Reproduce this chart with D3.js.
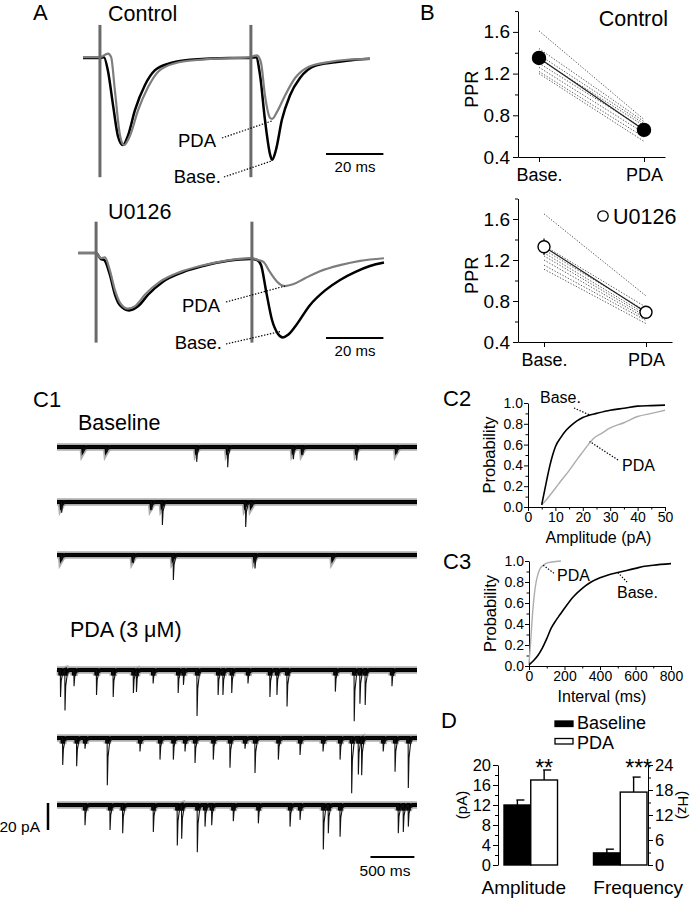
<!DOCTYPE html>
<html>
<head>
<meta charset="utf-8">
<script src="https://cdn.jsdelivr.net/npm/d3@7"></script>
<style>
  body { margin: 0; background: #fff; }
  svg { display: block; }
  text { font-family: 'Liberation Sans', Arial, sans-serif; fill: #000; }
</style>
</head>
<body>
<svg id="fig" width="692" height="899"></svg>
<script>
// ---------- A: evoked EPSC pairs, [time ms, current (norm. pA)] ----------
const ctrlBase = [[0,0],[5.9,0],[7.3,1],[8.7,-15],[10.5,-55],[12.2,-90],[13.9,-100],[15.7,-89],[18.1,-60],[21.6,-31],[25.1,-14],[30.3,-6],[37.3,-2],[51.2,0],[58.2,0],[60.3,1],[61.7,-20],[63.4,-71],[65.2,-111],[65.9,-117],[67.2,-106],[69.3,-71],[72.1,-43],[75.6,-23],[80.8,-9],[87.8,-5],[94.8,-2],[100,-1]];
const ctrlPda = [[0,1],[5.9,1],[8.7,5],[9.8,1],[11.1,-37],[12.9,-89],[14.3,-100],[16.4,-89],[19.2,-60],[22.6,-34],[26.1,-16],[32.1,-6],[40.8,-2],[58.2,1],[60.6,3],[62,-5],[63.4,-43],[65.2,-69],[65.9,-70],[67.6,-62],[70.4,-43],[73.9,-23],[78.7,-10],[85,-5],[92,-2],[100,-1]];
const u0Base = [[0,0],[6.3,0],[8,-7],[9.1,-8],[11.1,-25],[12.9,-48],[14.6,-60],[17.8,-66],[21,-61],[24.4,-48],[29.6,-33],[36.6,-22],[43.6,-15],[52.3,-9],[59.9,-7],[60.6,-7],[62.4,-8],[63.8,-14],[65.5,-43],[67.6,-77],[69.7,-93],[71.4,-97],[73.2,-94],[76,-83],[80.8,-60],[86.1,-43],[91.3,-31],[96.5,-22],[101.7,-15],[106.6,-11]];
const u0Pda = [[0,0],[6.3,0],[8,-6],[9.4,-5],[11.1,-20],[12.9,-43],[14.6,-57],[17.4,-64],[19.9,-61],[23.3,-48],[28.6,-33],[35.5,-22],[42.5,-15],[51.2,-9],[59.9,-6],[60.6,-6],[62.7,-8],[64.5,-10],[66.9,-22],[69.7,-34],[72.1,-38],[74.9,-36],[79.1,-29],[84.3,-21],[91.3,-14],[98.3,-9],[106.6,-6]];
const ctrlStim = [5.9, 58.5];
const u0Stim = [6.3, 60.6];
const ctrlArtifact = [38, -137];
const u0Artifact = [36, -103];

// ---------- B: paired-pulse ratio ----------
const pprCats = ["Base.", "PDA"];
const ctrlPprBase = [1.61, 1.44, 1.38, 1.34, 1.30, 1.26, 1.22, 1.20];
const ctrlPprPda  = [0.76, 0.74, 0.72, 0.70, 0.67, 0.63, 0.59, 0.55];
const ctrlPprMean = [1.35, 0.66];
const ctrlPprSem  = [0.06, 0.02];
const u0PprBase = [1.65, 1.34, 1.30, 1.27, 1.24, 1.20, 1.15, 1.11];
const u0PprPda  = [0.85, 0.74, 0.70, 0.67, 0.65, 0.63, 0.61, 0.58];
const u0PprMean = [1.33, 0.69];
const u0PprSem  = [0.08, 0.04];
const pprTicks = [0.4, 0.8, 1.2, 1.6];

// ---------- C1: mEPSC events per sweep, [time ms, amplitude pA] ----------
const baseSweep1 = [[300,4],[566,4],[1591,11],[1944,15],[2692,9],[2798,6],[3413,10],[3869,5]];
const baseSweep2 = [[53,8],[1078,6],[1200,17],[2149,18.5],[2217,4]];
const baseSweep3 = [[53,4],[869,6],[1325,18.5],[2255,10],[3144,3]];
const pdaSweep1 = [[40,20],[91,30],[194,12],[450,18.5],[640,20],[870,17],[905,15],[1095,10],[1380,17],[1440,11],[1595,34],[1835,18.5],[1890,18.5],[1990,17],[2175,10],[2425,20],[2505,18.5],[2620,27],[3170,16],[3385,38],[3450,25],[3510,26],[3815,12]];
const pdaSweep2 = [[65,20],[224,21],[319,8],[573,35],[945,10],[1173,16],[1325,16],[1458,10],[1572,18.5],[1780,16],[1970,22],[2141,8],[2255,26],[2521,16],[2768,12.6],[3030,10],[3224,16],[3356,41],[3432,27],[3470,26],[3715,10],[3850,25],[4001,37]];
const pdaSweep3 = [[319,15],[604,18.5],[748,21],[1097,20],[1370,30],[1420,25],[1598,35],[1686,16],[1762,15],[2008,12],[2293,13.6],[2654,16],[2768,11],[3033,33],[3090,21],[3224,23.5],[3887,21],[3944,20],[4001,16]];

// ---------- C2 / C3: cumulative distributions ----------
const ampBase = [[5,0.02],[6,0.15],[7,0.28],[8,0.40],[9,0.50],[10,0.58],[12,0.67],[14,0.74],[16,0.79],[18,0.83],[20,0.86],[22,0.88],[25,0.90],[30,0.93],[35,0.95],[40,0.97],[45,0.975],[50,0.98]];
const ampPda = [[5,0.02],[7,0.08],[10,0.18],[12,0.25],[15,0.35],[18,0.46],[20,0.53],[22,0.60],[24,0.66],[27,0.71],[30,0.76],[35,0.81],[40,0.87],[45,0.90],[50,0.93]];
const intBase = [[0,0.01],[25,0.05],[50,0.10],[75,0.17],[100,0.26],[125,0.36],[150,0.43],[175,0.49],[200,0.55],[250,0.66],[300,0.74],[350,0.80],[400,0.84],[450,0.87],[500,0.89],[550,0.91],[600,0.93],[650,0.95],[700,0.96],[800,0.975]];
const intPda = [[0,0.02],[10,0.25],[20,0.5],[30,0.68],[40,0.8],[50,0.87],[60,0.92],[80,0.96],[100,0.98],[130,0.99],[180,1.0]];

// ---------- D: summary bars ----------
const groups = ["Amplitude", "Frequency"];
const conds = ["Baseline", "PDA"];
const ampMean = [12, 17];
const ampSem = [1, 2];
const freqMean = [2.9, 17.5];
const freqSem = [0.9, 3.6];
const stars = ["**", "***"];

const svg = d3.select("#fig");
const FONT = "'Liberation Sans', Arial, sans-serif";

function label(x, y, s, size, anchor = "start") {
  return svg.append("text")
    .attr("x", x).attr("y", y)
    .attr("font-size", size)
    .attr("text-anchor", anchor)
    .text(s);
}
function dots(x1, y1, x2, y2) {
  svg.append("line")
    .attr("x1", x1).attr("y1", y1).attr("x2", x2).attr("y2", y2)
    .attr("stroke", "#000").attr("stroke-width", 1.2)
    .attr("stroke-dasharray", "1.4,1.6");
}
function styleAxis(g, size) {
  g.attr("font-family", FONT).attr("font-size", size);
  g.selectAll("path, line").attr("stroke", "#000").attr("stroke-width", 1);
  g.selectAll("text").attr("fill", "#000");
}

// panel letters
label(33, 20, "A", 22);
label(420, 20, "B", 22);
label(33, 407, "C1", 22);
label(443, 406, "C2", 22);
label(443, 569, "C3", 22);
label(441, 728, "D", 22);

// ---------- A ----------
function drawEvoked(opt) {
  const x = d3.scaleLinear().domain([0, 100]).range([opt.x0, opt.x0 + 287]);
  const y = d3.scaleLinear().domain([0, -100]).range([opt.y0, opt.y0 + 87]);
  const line = d3.line().x(d => x(d[0])).y(d => y(d[1])).curve(d3.curveMonotoneX);
  svg.append("path").datum(opt.base).attr("d", line)
    .attr("fill", "none").attr("stroke", "#000").attr("stroke-width", 2.5);
  svg.append("path").datum(opt.pda).attr("d", line)
    .attr("fill", "none").attr("stroke", "#7d7d7d").attr("stroke-width", 2.2);
  opt.stim.forEach(t => {
    svg.append("line")
      .attr("x1", x(t)).attr("x2", x(t))
      .attr("y1", y(opt.art[0])).attr("y2", y(opt.art[1]))
      .attr("stroke", "#6a6a6a").attr("stroke-width", 3);
  });
  // 20 ms scale bar
  svg.append("line")
    .attr("x1", 326).attr("x2", 326 + x(20) - x(0))
    .attr("y1", opt.barY).attr("y2", opt.barY)
    .attr("stroke", "#000").attr("stroke-width", 2);
  label(355, opt.barY + 18, "20 ms", 15, "middle");
  return { x, y };
}

const a1 = drawEvoked({ x0: 83, y0: 58, base: ctrlBase, pda: ctrlPda, stim: ctrlStim, art: ctrlArtifact, barY: 154 });
label(108, 21, "Control", 21.5);
label(216, 147, "PDA", 18.5, "end");
label(221, 183, "Base.", 18.5, "end");
dots(222, 138, a1.x(65.9), a1.y(-70) + 2);
dots(224, 177, a1.x(65.9), a1.y(-117) + 1);

const a2 = drawEvoked({ x0: 78, y0: 253, base: u0Base, pda: u0Pda, stim: u0Stim, art: u0Artifact, barY: 338 });
label(108, 219, "U0126", 21.5);
label(220, 312, "PDA", 18.5, "end");
label(222, 349, "Base.", 18.5, "end");
dots(226, 302, a2.x(72.1), a2.y(-38));
dots(226, 344, a2.x(71.4) - 2, a2.y(-97) - 6);

// ---------- B ----------
function drawPpr(opt) {
  const y = d3.scaleLinear().domain([0.4, 1.8]).range([opt.yBot, opt.yBot - (1.4 / 0.4) * opt.step]);
  const x = d3.scalePoint().domain(pprCats).range([518, opt.xEnd]).padding(opt.pad);
  const gy = svg.append("g").attr("transform", "translate(518,0)")
    .call(d3.axisLeft(y).tickValues(pprTicks).tickFormat(d3.format(".1f")).tickSize(5).tickSizeOuter(0).tickPadding(3));
  styleAxis(gy, 19);
  svg.append("g").attr("transform", "translate(518,0)")
    .call(d3.axisLeft(y).tickValues([0.6, 1.0, 1.4, 1.8]).tickFormat("").tickSize(3).tickSizeOuter(0))
    .call(g => g.select(".domain").remove())
    .call(g => styleAxis(g, 10));
  const gx = svg.append("g").attr("transform", `translate(0,${opt.yBot})`)
    .call(d3.axisBottom(x).tickSize(5).tickSizeOuter(0).tickPadding(4));
  styleAxis(gx, 18);
  gx.selectAll("text").attr("dy", "0.85em");

  // individual cells
  opt.base.forEach((v, i) => {
    svg.append("line")
      .attr("x1", x("Base.")).attr("y1", y(v))
      .attr("x2", x("PDA")).attr("y2", y(opt.pda[i]))
      .attr("stroke", "#555").attr("stroke-width", 1)
      .attr("stroke-dasharray", "1.3,1.7");
  });
  // mean line + error bars + markers
  svg.append("line")
    .attr("x1", x("Base.")).attr("y1", y(opt.mean[0]))
    .attr("x2", x("PDA")).attr("y2", y(opt.mean[1]))
    .attr("stroke", "#222").attr("stroke-width", 1.2);
  pprCats.forEach((c, i) => {
    svg.append("line")
      .attr("x1", x(c)).attr("x2", x(c))
      .attr("y1", y(opt.mean[i] - opt.sem[i])).attr("y2", y(opt.mean[i] + opt.sem[i]))
      .attr("stroke", "#000").attr("stroke-width", 1.2);
    svg.append("circle")
      .attr("cx", x(c)).attr("cy", y(opt.mean[i])).attr("r", opt.r)
      .attr("fill", opt.filled ? "#000" : "#fff")
      .attr("stroke", "#000").attr("stroke-width", 1.4);
  });
  svg.append("text")
    .attr("transform", `translate(478,${y(1.05)}) rotate(-90)`)
    .attr("text-anchor", "middle").attr("font-size", 18).text("PPR");
  return { x, y };
}

drawPpr({ yBot: 157, step: 41.7, xEnd: 665, pad: 0.2, base: ctrlPprBase, pda: ctrlPprPda, mean: ctrlPprMean, sem: ctrlPprSem, r: 6.5, filled: true });
label(668, 26, "Control", 21.5, "end");
drawPpr({ yBot: 342, step: 41, xEnd: 672, pad: 0.255, base: u0PprBase, pda: u0PprPda, mean: u0PprMean, sem: u0PprSem, r: 6, filled: false });
svg.append("circle").attr("cx", 603).attr("cy", 216).attr("r", 5.2)
  .attr("fill", "#fff").attr("stroke", "#000").attr("stroke-width", 1.3);
label(613, 224, "U0126", 21.5);

// ---------- C1 ----------
const tmplDt = [-2, 0, 8, 25, 50];
const tmplF = [0, 1, 0.4, 0.12, 0];
function eventVal(e, t, cap) {
  const a = Math.min(e[1], cap);
  const d = t - e[0];
  if (d <= tmplDt[0] || d >= tmplDt[4]) return 0;
  for (let i = 0; i < 4; i++) {
    if (d <= tmplDt[i + 1]) {
      const f = (d - tmplDt[i]) / (tmplDt[i + 1] - tmplDt[i]);
      return -a * (tmplF[i] + f * (tmplF[i + 1] - tmplF[i]));
    }
  }
  return 0;
}
function sweepPoints(events, cap) {
  let ts = [0, 4100];
  events.forEach(e => tmplDt.forEach(dt => ts.push(e[0] + dt)));
  ts = ts.filter(t => t >= 0 && t <= 4100).sort((a, b) => a - b);
  return ts.map(t => [t, d3.sum(events, e => eventVal(e, t, cap))]);
}
const xC1 = d3.scaleLinear().domain([0, 4100]).range([57, 417]);
function drawSweep(events, y0, bandCap) {
  const y = d3.scaleLinear().domain([0, -20]).range([y0, y0 + 27]);
  const line = d3.line().x(d => xC1(d[0])).y(d => y(d[1]));
  svg.append("path").datum(sweepPoints(events, bandCap)).attr("d", line)
    .attr("fill", "none").attr("stroke", "#333").attr("stroke-width", 7.5).attr("stroke-opacity", 0.4);
  svg.append("path").datum(sweepPoints(events, bandCap)).attr("d", line)
    .attr("fill", "none").attr("stroke", "#000").attr("stroke-width", 4.2);
  svg.append("path").datum(sweepPoints(events, 999)).attr("d", line)
    .attr("fill", "none").attr("stroke", "#111").attr("stroke-width", 1.1);
  return y;
}
label(78, 430, "Baseline", 21.5);
drawSweep(baseSweep1, 447, 1.5);
drawSweep(baseSweep2, 502, 1.5);
drawSweep(baseSweep3, 555, 1.5);
label(70, 637, "PDA (3 \u03BCM)", 21.5);
drawSweep(pdaSweep1, 670, 4);
drawSweep(pdaSweep2, 738, 4);
const yLast = drawSweep(pdaSweep3, 805, 4);
svg.append("line").attr("x1", 48).attr("x2", 48)
  .attr("y1", yLast(1.5)).attr("y2", yLast(-18.5))
  .attr("stroke", "#000").attr("stroke-width", 2.5);
label(40, 832, "20 pA", 15.5, "end");
svg.append("line").attr("x1", xC1(3570)).attr("x2", xC1(4070))
  .attr("y1", 857).attr("y2", 857)
  .attr("stroke", "#000").attr("stroke-width", 2);
label(385, 876, "500 ms", 15.5, "middle");

// ---------- C2 / C3 ----------
function drawCdf(opt) {
  const x = d3.scaleLinear().domain(opt.xDom).range(opt.xRange);
  const y = d3.scaleLinear().domain([0, 1]).range(opt.yRange);
  const gx = svg.append("g").attr("transform", `translate(0,${opt.yRange[0]})`)
    .call(d3.axisBottom(x).tickValues(opt.xTicks).tickSize(4).tickSizeOuter(0).tickPadding(1));
  styleAxis(gx, 14);
  svg.append("g").attr("transform", `translate(0,${opt.yRange[0]})`)
    .call(d3.axisBottom(x).tickValues(opt.xMinor).tickFormat("").tickSize(2.5))
    .call(g => g.select(".domain").remove()).call(g => styleAxis(g, 10));
  const gy = svg.append("g").attr("transform", `translate(${opt.xRange[0]},0)`)
    .call(d3.axisLeft(y).tickValues([0, 0.2, 0.4, 0.6, 0.8, 1]).tickFormat(d3.format(".1f")).tickSize(4).tickSizeOuter(0).tickPadding(1));
  styleAxis(gy, 14);
  svg.append("g").attr("transform", `translate(${opt.xRange[0]},0)`)
    .call(d3.axisLeft(y).tickValues([0.1, 0.3, 0.5, 0.7, 0.9]).tickFormat("").tickSize(2.5))
    .call(g => g.select(".domain").remove()).call(g => styleAxis(g, 10));
  const line = d3.line().x(d => x(d[0])).y(d => y(d[1])).curve(d3.curveMonotoneX);
  svg.append("path").datum(opt.pda).attr("d", line)
    .attr("fill", "none").attr("stroke", "#adadad").attr("stroke-width", 1.4);
  svg.append("path").datum(opt.base).attr("d", line)
    .attr("fill", "none").attr("stroke", "#000").attr("stroke-width", 1.6);
  svg.append("text")
    .attr("transform", `translate(${opt.xRange[0] - 33},${(opt.yRange[0] + opt.yRange[1]) / 2}) rotate(-90)`)
    .attr("text-anchor", "middle").attr("font-size", 16.5).text("Probability");
  label((opt.xRange[0] + opt.xRange[1]) / 2 + 2, opt.yRange[0] + 36, opt.title, 16, "middle");
  return { x, y };
}

const c2 = drawCdf({
  xDom: [0, 50], xRange: [528, 665], yRange: [507, 403],
  xTicks: [0, 10, 20, 30, 40, 50], xMinor: [5, 15, 25, 35, 45],
  base: ampBase, pda: ampPda, title: "Amplitude (pA)"
});
label(540, 403, "Base.", 16);
dots(574, 408, c2.x(22.5), c2.y(0.885));
label(622, 471, "PDA", 16);
dots(618, 460, c2.x(22.5), c2.y(0.63));

const c3 = drawCdf({
  xDom: [0, 800], xRange: [529, 671], yRange: [666, 561],
  xTicks: [0, 200, 400, 600, 800], xMinor: [100, 300, 500, 700],
  base: intBase, pda: intPda, title: "Interval (ms)"
});
label(557, 581, "PDA", 16);
dots(c3.x(80), c3.y(0.96), 555, 574);
label(617, 598, "Base.", 16);
dots(c3.x(500), c3.y(0.89), 628, 583);

// ---------- D ----------
const yAmp = d3.scaleLinear().domain([0, 20]).range([865, 765]);
const yHz = d3.scaleLinear().domain([0, 24]).range([865, 765]);
const xG = d3.scaleBand().domain(groups).range([504, 647]).paddingInner(0.402);
const xCond = d3.scaleBand().domain(conds).range([0, xG.bandwidth()]);

const gl = svg.append("g").attr("transform", "translate(498,0)")
  .call(d3.axisLeft(yAmp).tickValues([0, 4, 8, 12, 16, 20]).tickSize(5).tickSizeOuter(0).tickPadding(2));
styleAxis(gl, 16.5);
svg.append("g").attr("transform", "translate(498,0)")
  .call(d3.axisLeft(yAmp).tickValues([2, 6, 10, 14, 18]).tickFormat("").tickSize(3))
  .call(g => g.select(".domain").remove()).call(g => styleAxis(g, 10));
const gr = svg.append("g").attr("transform", "translate(648,0)")
  .call(d3.axisRight(yHz).tickValues([0, 6, 12, 18, 24]).tickSize(5).tickSizeOuter(0).tickPadding(2));
styleAxis(gr, 16.5);
svg.append("g").attr("transform", "translate(648,0)")
  .call(d3.axisRight(yHz).tickValues([3, 9, 15, 21]).tickFormat("").tickSize(3))
  .call(g => g.select(".domain").remove()).call(g => styleAxis(g, 10));

const barSets = [
  { g: "Amplitude", mean: ampMean, sem: ampSem, y: yAmp },
  { g: "Frequency", mean: freqMean, sem: freqSem, y: yHz }
];
barSets.forEach((s, gi) => {
  conds.forEach((c, i) => {
    const bx = xG(s.g) + xCond(c);
    const bw = xCond.bandwidth();
    const cx = bx + bw / 2;
    svg.append("line")
      .attr("x1", cx).attr("x2", cx)
      .attr("y1", s.y(s.mean[i])).attr("y2", s.y(s.mean[i] + s.sem[i]))
      .attr("stroke", "#000").attr("stroke-width", 1.4);
    svg.append("line")
      .attr("x1", cx - 1).attr("x2", cx + 7)
      .attr("y1", s.y(s.mean[i] + s.sem[i])).attr("y2", s.y(s.mean[i] + s.sem[i]))
      .attr("stroke", "#000").attr("stroke-width", 1.4);
    svg.append("rect")
      .attr("x", bx).attr("width", bw)
      .attr("y", s.y(s.mean[i])).attr("height", s.y(0) - s.y(s.mean[i]))
      .attr("fill", i === 0 ? "#000" : "#fff")
      .attr("stroke", "#000").attr("stroke-width", 1.4);
  });
  const sx = xG(s.g) + xCond("PDA") + xCond.bandwidth() / 2 + (gi === 1 ? 5 : 0);
  label(sx, 776, stars[gi], 23, "middle");
  label(xG(s.g) + xG.bandwidth() / 2 + (gi === 1 ? 18 : -7), 894, s.g, 19, "middle");
});

svg.append("text")
  .attr("transform", "translate(467,805) rotate(-90)")
  .attr("text-anchor", "middle").attr("font-size", 15).text("(pA)");
svg.append("text")
  .attr("transform", "translate(678,805) rotate(90)")
  .attr("text-anchor", "middle").attr("font-size", 15).text("(Hz)");

// legend
conds.forEach((c, i) => {
  svg.append("rect")
    .attr("x", 555).attr("y", 721 + i * 17.5).attr("width", 18).attr("height", 5.5)
    .attr("fill", i === 0 ? "#000" : "#fff")
    .attr("stroke", "#000").attr("stroke-width", 1.3);
  label(577, 729 + i * 20, c, 18);
});
</script>
</body>
</html>
